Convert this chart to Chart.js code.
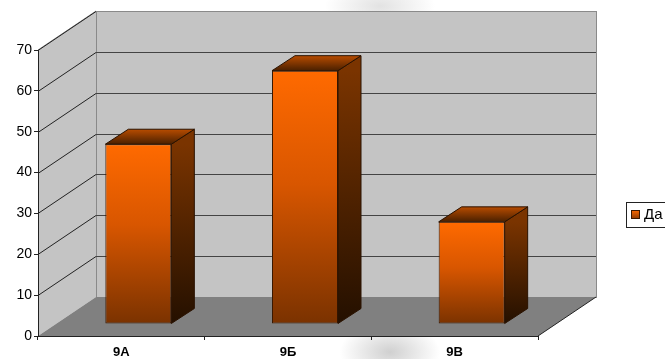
<!DOCTYPE html>
<html>
<head>
<meta charset="utf-8">
<script src="https://cdn.jsdelivr.net/npm/chart.js@4"></script>
<style>
  html, body { margin: 0; padding: 0; background: #fff; }
  #wrap { width: 665px; height: 359px; position: relative;
    background:
      radial-gradient(ellipse 55px 25px at 380px 6px, rgba(160,160,160,0.3), rgba(255,255,255,0)),
      radial-gradient(ellipse 50px 30px at 390px 352px, rgba(120,120,120,0.35), rgba(255,255,255,0)),
      #fff; }
</style>
</head>
<body>
<div id="wrap"><canvas id="chart" width="665" height="359"></canvas></div>
<script>
let classLabels = ["9А", "9Б", "9В"];
let yesValues = [44, 62, 25];
let seriesName = "Да";

// depth offsets (px) for the fake 3d look
const wallDepth = {dx: 58, dy: -39};
const barShift = {dx: 17, dy: -12};
const barDepth = {dx: 23, dy: -15};

function frontGradient(context){
    const chart = context.chart;
    if (!chart.chartArea) return "#e05a00";
    const y = chart.scales.y;
    const top = y.getPixelForValue(context.raw);
    const base = y.getPixelForValue(0);
    const g = chart.ctx.createLinearGradient(0, top, 0, base);
    g.addColorStop(0, "#ff6a00");
    g.addColorStop(0.45, "#d85600");
    g.addColorStop(1, "#7a3200");
    return g;
}

const walls3d = {
    id: "walls3d",
    beforeDraw(chart){
        const ctx = chart.ctx;
        const a = chart.chartArea;
        const y = chart.scales.y;
        const dx = wallDepth.dx, dy = wallDepth.dy;
        ctx.save();
        // side wall
        ctx.fillStyle = "#c4c4c4";
        ctx.beginPath();
        ctx.moveTo(a.left, a.bottom);
        ctx.lineTo(a.left, a.top);
        ctx.lineTo(a.left + dx, a.top + dy);
        ctx.lineTo(a.left + dx, a.bottom + dy);
        ctx.closePath();
        ctx.fill();
        // back wall
        ctx.fillRect(a.left + dx, a.top + dy, a.right - a.left, a.bottom - a.top);
        ctx.strokeStyle = "#8a8a8a";
        ctx.lineWidth = 1;
        ctx.strokeRect(a.left + dx + 0.5, a.top + dy + 0.5, a.right - a.left, a.bottom - a.top);
        ctx.beginPath();
        ctx.moveTo(a.left, a.top);
        ctx.lineTo(a.left + dx, a.top + dy);
        ctx.stroke();
        // floor
        ctx.fillStyle = "#808080";
        ctx.beginPath();
        ctx.moveTo(a.left, a.bottom);
        ctx.lineTo(a.right, a.bottom);
        ctx.lineTo(a.right + dx, a.bottom + dy);
        ctx.lineTo(a.left + dx, a.bottom + dy);
        ctx.closePath();
        ctx.fill();
        ctx.strokeStyle = "#222";
        ctx.beginPath();
        ctx.moveTo(a.right, a.bottom);
        ctx.lineTo(a.right + dx, a.bottom + dy);
        ctx.stroke();
        // grid lines on side and back walls
        y.ticks.forEach(t => {
            const py = Math.round(y.getPixelForValue(t.value)) + 0.5;
            if (t.value === 0) return;
            ctx.strokeStyle = "#222";
            ctx.beginPath();
            ctx.moveTo(a.left, py);
            ctx.lineTo(a.left + dx, py + dy);
            ctx.stroke();
            if (t.value < 70) {
                ctx.strokeStyle = "#444";
                ctx.beginPath();
                ctx.moveTo(a.left + dx, py + dy);
                ctx.lineTo(a.right + dx, py + dy);
                ctx.stroke();
            }
        });
        ctx.restore();
    },
    beforeDatasetsDraw(chart){
        chart.ctx.save();
        chart.ctx.translate(barShift.dx, barShift.dy);
    },
    afterDatasetsDraw(chart){
        const ctx = chart.ctx;
        const meta = chart.getDatasetMeta(0);
        const dx = barDepth.dx, dy = barDepth.dy;
        meta.data.forEach(bar => {
            const left = bar.x - bar.width / 2;
            const right = bar.x + bar.width / 2;
            const top = bar.y;
            const base = bar.base;
            // side face
            let g = ctx.createLinearGradient(0, top, 0, base);
            g.addColorStop(0, "#7a3400");
            g.addColorStop(1, "#241000");
            ctx.fillStyle = g;
            ctx.beginPath();
            ctx.moveTo(right, top);
            ctx.lineTo(right + dx, top + dy);
            ctx.lineTo(right + dx, base + dy);
            ctx.lineTo(right, base);
            ctx.closePath();
            ctx.fill();
            ctx.strokeStyle = "#2a1200";
            ctx.lineWidth = 1;
            ctx.stroke();
            // top face
            g = ctx.createLinearGradient(0, top, 0, top + dy);
            g.addColorStop(0, "#4a2000");
            g.addColorStop(1, "#b84c00");
            ctx.fillStyle = g;
            ctx.beginPath();
            ctx.moveTo(left, top);
            ctx.lineTo(right, top);
            ctx.lineTo(right + dx, top + dy);
            ctx.lineTo(left + dx, top + dy);
            ctx.closePath();
            ctx.fill();
            ctx.stroke();
        });
        ctx.restore();
    },
    afterDraw(chart){
        // legend box at the right, cut by the edge like the original
        const ctx = chart.ctx;
        const ds = chart.data.datasets[0];
        ctx.save();
        ctx.fillStyle = "#fff";
        ctx.fillRect(626, 202, 50, 25);
        ctx.strokeStyle = "#222";
        ctx.lineWidth = 1;
        ctx.strokeRect(626.5, 202.5, 50, 25);
        const g = ctx.createLinearGradient(0, 210, 0, 219);
        g.addColorStop(0, "#ff6a00");
        g.addColorStop(1, "#8a3800");
        ctx.fillStyle = g;
        ctx.fillRect(631, 210, 9, 9);
        ctx.strokeStyle = "#3a1800";
        ctx.strokeRect(631.5, 210.5, 8, 8);
        ctx.fillStyle = "#000";
        ctx.font = "15px 'Liberation Sans', Arial, sans-serif";
        ctx.textBaseline = "middle";
        ctx.fillText(ds.label, 644, 215);
        ctx.restore();
    }
};

new Chart(document.getElementById("chart"), {
    type: "bar",
    data: {
        labels: classLabels,
        datasets: [{
            label: seriesName,
            data: yesValues,
            backgroundColor: frontGradient,
            borderColor: "#3a1800",
            borderWidth: 1,
            borderSkipped: false,
            categoryPercentage: 1,
            barPercentage: 0.396
        }]
    },
    options: {
        responsive: false,
        animation: false,
        layout: {padding: {top: 50, right: 127, left: 0, bottom: 0}},
        plugins: {legend: {display: false}, tooltip: {enabled: false}},
        scales: {
            x: {
                afterFit: s => { s.height = 23; },
                grid: {display: true, offset: true, drawOnChartArea: false, tickLength: 4, color: "#222"},
                border: {display: true, color: "#222"},
                ticks: {color: "#000", padding: 5, font: {family: "'Liberation Sans', Arial", size: 13, weight: "bold"}}
            },
            y: {
                min: 0,
                max: 70,
                afterFit: s => { s.width = 38; },
                grid: {display: true, drawOnChartArea: false, tickLength: 4, color: "#222"},
                border: {display: true, color: "#222"},
                ticks: {stepSize: 10, color: "#000", padding: 2, font: {family: "'Liberation Sans', Arial", size: 14}}
            }
        }
    },
    plugins: [walls3d]
});
</script>
</body>
</html>
